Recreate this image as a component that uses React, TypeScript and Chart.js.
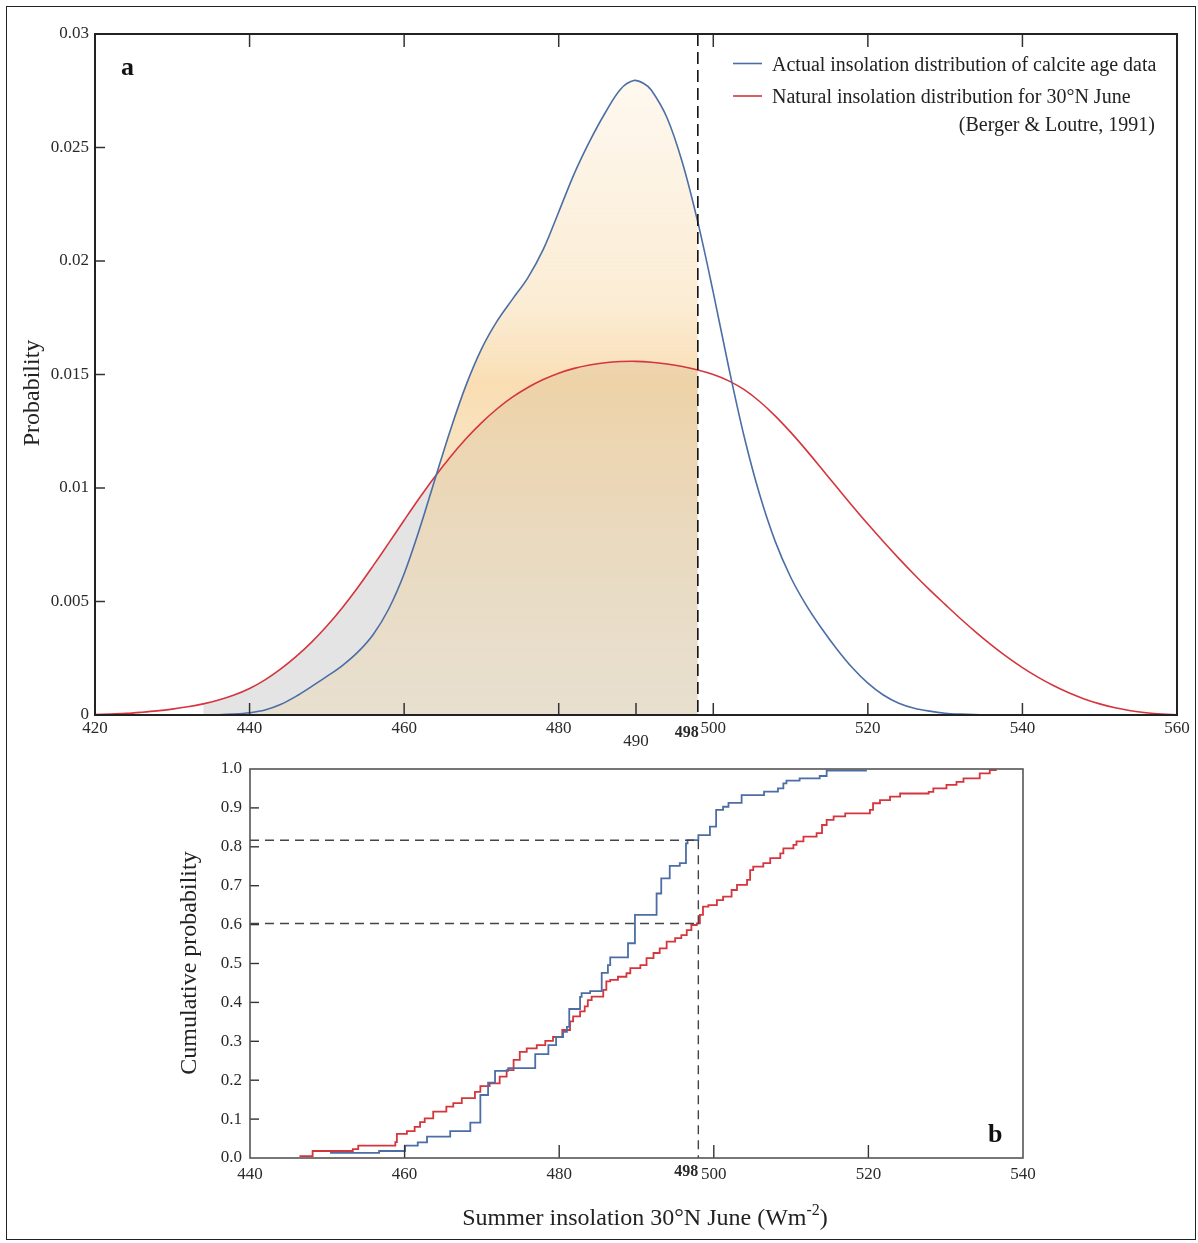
import React, { useEffect, useRef } from "react";
import { Chart, registerables } from "chart.js";

Chart.register(...registerables);

// ---------------- data ----------------
// Panel a: probability density of summer insolation (30°N June)
const actualDensityX = [434, 436, 438, 440, 442, 444, 446, 448, 450, 452, 454, 456, 458, 460, 462, 464, 466, 468, 470, 472, 474, 476, 478, 480, 482, 484, 486, 488, 489.7, 491, 492, 494, 496, 498, 500, 502, 504, 506, 508, 510, 512, 514, 516, 518, 520, 522, 524, 526, 528, 530, 532, 535.4];
const actualDensityY = [0, 0.00001, 0.00004, 0.0001, 0.00022, 0.00046, 0.00082, 0.00125, 0.0017, 0.00218, 0.00277, 0.00355, 0.00467, 0.00622, 0.0082, 0.0104, 0.01257, 0.01452, 0.01612, 0.01734, 0.01831, 0.01926, 0.02051, 0.02216, 0.02384, 0.02527, 0.02652, 0.02757, 0.02795, 0.02782, 0.02752, 0.02632, 0.02434, 0.02171, 0.01861, 0.01531, 0.01226, 0.00971, 0.00766, 0.00608, 0.00485, 0.00382, 0.0029, 0.00208, 0.0014, 0.00088, 0.00052, 0.0003, 0.00017, 0.00008, 0.00004, 0];

const naturalDensityX = [420, 422, 424, 426, 428, 430, 432, 434, 436, 438, 440, 442, 444, 446, 448, 450, 452, 454, 456, 458, 460, 462, 464, 466, 468, 470, 472, 474, 476, 478, 480, 482, 484, 486, 488, 490, 492, 494, 496, 498, 500, 502, 504, 506, 508, 510, 512, 514, 516, 518, 520, 522, 524, 526, 528, 530, 532, 534, 536, 538, 540, 542, 544, 546, 548, 550, 552, 554, 556, 558, 560];
const naturalDensityY = [0.00002, 0.00004, 0.00007, 0.00012, 0.00018, 0.00026, 0.00036, 0.00049, 0.00066, 0.00088, 0.00117, 0.00155, 0.00202, 0.00257, 0.0032, 0.00392, 0.00473, 0.00562, 0.00658, 0.00757, 0.00858, 0.00957, 0.01051, 0.01138, 0.01217, 0.01287, 0.01348, 0.014, 0.01443, 0.01478, 0.01506, 0.01527, 0.01542, 0.01552, 0.01557, 0.01558, 0.01554, 0.01546, 0.01535, 0.0152, 0.015, 0.01472, 0.01433, 0.01381, 0.01318, 0.01246, 0.01168, 0.01086, 0.01003, 0.00921, 0.00841, 0.00764, 0.0069, 0.00619, 0.00551, 0.00487, 0.00424, 0.00364, 0.00308, 0.00256, 0.00209, 0.00167, 0.0013, 0.00098, 0.00071, 0.00049, 0.00032, 0.00019, 0.0001, 0.00004, 0.00001];

// Panel b: cumulative probability (step functions)
const actualCdfX = [450.35, 456.7, 460.05, 461.7, 462.9, 465.9, 468.5, 469.8, 470.8, 471.7, 473.4, 476.9, 478.6, 479.6, 480.5, 481.0, 481.3, 482.7, 482.9, 484.0, 485.5, 486.3, 486.6, 488.9, 489.8, 492.6, 493.2, 494.3, 495.6, 496.4, 496.6, 498.0, 499.5, 500.3, 501.2, 501.9, 503.6, 506.5, 508.3, 509.0, 509.4, 511.1, 513.7, 514.6, 519.8];
const actualCdfY = [0.013, 0.018, 0.032, 0.04, 0.055, 0.069, 0.091, 0.162, 0.194, 0.224, 0.231, 0.267, 0.29, 0.311, 0.324, 0.337, 0.383, 0.414, 0.424, 0.429, 0.476, 0.496, 0.516, 0.552, 0.625, 0.68, 0.719, 0.751, 0.758, 0.809, 0.817, 0.83, 0.852, 0.895, 0.903, 0.913, 0.933, 0.942, 0.95, 0.963, 0.97, 0.976, 0.982, 0.996, 0.996];

const naturalCdfX = [446.4, 448.1, 453.3, 454.0, 458.8, 459.0, 460.3, 461.3, 462.0, 462.6, 463.7, 465.4, 466.3, 467.4, 469.1, 469.8, 471.0, 472.3, 473.2, 474.1, 474.9, 475.8, 477.1, 478.2, 479.2, 480.4, 481.4, 481.8, 482.7, 483.3, 483.7, 484.2, 485.7, 486.1, 486.6, 487.6, 488.7, 489.2, 490.5, 491.3, 492.2, 493.0, 493.9, 495.0, 495.8, 496.5, 497.1, 497.8, 498.2, 498.6, 499.3, 500.4, 501.2, 502.3, 503.0, 504.3, 504.7, 505.1, 506.4, 507.3, 508.6, 509.0, 510.3, 510.7, 511.6, 513.3, 514.0, 514.6, 515.5, 517.0, 520.2, 520.6, 521.5, 522.8, 524.1, 527.8, 528.4, 530.1, 531.4, 532.3, 534.4, 535.7, 536.6];
const naturalCdfY = [0.005, 0.018, 0.023, 0.032, 0.041, 0.062, 0.069, 0.08, 0.092, 0.102, 0.119, 0.132, 0.141, 0.154, 0.17, 0.185, 0.192, 0.209, 0.226, 0.252, 0.273, 0.282, 0.29, 0.301, 0.311, 0.329, 0.351, 0.364, 0.377, 0.39, 0.406, 0.415, 0.432, 0.454, 0.458, 0.466, 0.475, 0.488, 0.496, 0.514, 0.527, 0.539, 0.556, 0.565, 0.573, 0.586, 0.599, 0.603, 0.625, 0.646, 0.65, 0.663, 0.672, 0.689, 0.702, 0.715, 0.74, 0.749, 0.758, 0.771, 0.783, 0.796, 0.805, 0.814, 0.826, 0.835, 0.856, 0.869, 0.878, 0.886, 0.895, 0.912, 0.92, 0.929, 0.937, 0.941, 0.95, 0.959, 0.967, 0.976, 0.989, 0.997, 0.997];

const threshold = 498;
const thresholdActualCdf = 0.817;
const thresholdNaturalCdf = 0.603;

// ticks / labels
const xTicksTop = [420, 440, 460, 480, 500, 520, 540, 560];
const xInnerTicksTop = [440, 460, 480, 490, 500, 520, 540];
const xInnerTicksTopEdge = [440, 460, 480, 500, 520, 540];
const extraTickTop = 490;
const yTicksTop = [0, 0.005, 0.01, 0.015, 0.02, 0.025, 0.03];
const yTickLabelsTop = ["0", "0.005", "0.01", "0.015", "0.02", "0.025", "0.03"];
const xTicksBot = [440, 460, 480, 500, 520, 540];
const xInnerTicksBot = [460, 480, 500, 520];
const yTicksBot = [0, 0.1, 0.2, 0.3, 0.4, 0.5, 0.6, 0.7, 0.8, 0.9, 1.0];
const yTickLabelsBot = ["0.0", "0.1", "0.2", "0.3", "0.4", "0.5", "0.6", "0.7", "0.8", "0.9", "1.0"];

const legendActual = "Actual insolation distribution of calcite age data";
const legendNatural = "Natural insolation distribution for 30°N June";
const legendNaturalRef = "(Berger & Loutre, 1991)";

// ---------------- styles ----------------
const SERIF = '"Liberation Serif", "Times New Roman", Times, serif';
const BLUE = "#4b6ea6";
const RED = "#d5353c";
const TICK_COLOR = "#2a2a2a";
const TENSION = 0.35;

const W = 1198;
const TOP_H = 760;
const BOT_H = 483;

function line(ctx: CanvasRenderingContext2D, x1: number, y1: number, x2: number, y2: number) {
  ctx.beginPath();
  ctx.moveTo(x1, y1);
  ctx.lineTo(x2, y2);
  ctx.stroke();
}

function creamGradient(c: any) {
  const chart = c.chart;
  const { ctx, chartArea, scales } = chart;
  if (!chartArea) return "rgba(245,200,130,0.35)";
  const y0 = scales.y.getPixelForValue(0.028);
  const y1 = scales.y.getPixelForValue(0);
  const g = ctx.createLinearGradient(0, y0, 0, y1);
  g.addColorStop(0, "rgba(245,205,140,0.14)");
  g.addColorStop(0.36, "rgba(245,202,135,0.36)");
  g.addColorStop(0.48, "rgba(245,198,125,0.58)");
  g.addColorStop(0.62, "rgba(243,200,132,0.48)");
  g.addColorStop(0.82, "rgba(241,206,145,0.36)");
  g.addColorStop(1, "rgba(240,212,160,0.3)");
  return g;
}

function fixedAxes(xHeight: number, yWidth: number) {
  return {
    x: (s: any) => {
      s.height = xHeight;
      s.paddingLeft = 0;
      s.paddingRight = 0;
    },
    y: (s: any) => {
      s.width = yWidth;
      s.paddingTop = 0;
      s.paddingBottom = 0;
    },
  };
}

function topConfig(): any {
  const actual = actualDensityX.map((x, i) => ({ x, y: actualDensityY[i] }));
  const natural = naturalDensityX.map((x, i) => ({ x, y: naturalDensityY[i] }));
  const actualFill = actual.filter((p) => p.x <= threshold);
  const naturalFill = natural.filter((p) => p.x >= actualDensityX[0] && p.x <= threshold);
  const fa = fixedAxes(TOP_H - 715, 95);

  const decor = {
    id: "topDecor",
    afterDraw(chart: any) {
      const { ctx, chartArea: a, scales } = chart;
      const x = scales.x;
      const y = scales.y;
      ctx.save();
      // threshold dashed line
      ctx.strokeStyle = "#111";
      ctx.lineWidth = 1.6;
      ctx.setLineDash([12, 6]);
      const tx = x.getPixelForValue(threshold);
      line(ctx, tx, a.top, tx, a.bottom);
      ctx.setLineDash([]);
      // inner ticks
      ctx.strokeStyle = "#333";
      ctx.lineWidth = 1.5;
      xInnerTicksTop.forEach((v) => {
        const px = x.getPixelForValue(v);
        line(ctx, px, a.bottom, px, a.bottom - 12);
      });
      xInnerTicksTopEdge.forEach((v) => {
        const px = x.getPixelForValue(v);
        line(ctx, px, a.top, px, a.top + 13);
      });
      yTicksTop.slice(1, -1).forEach((v) => {
        const py = y.getPixelForValue(v);
        line(ctx, a.left, py, a.left + 10, py);
      });
      // frame
      ctx.strokeStyle = "#222";
      ctx.lineWidth = 2;
      ctx.strokeRect(a.left, a.top, a.right - a.left, a.bottom - a.top);
      // extra tick labels
      ctx.fillStyle = TICK_COLOR;
      ctx.textBaseline = "middle";
      ctx.textAlign = "center";
      ctx.font = `17px ${SERIF}`;
      ctx.fillText(String(extraTickTop), x.getPixelForValue(extraTickTop), a.bottom + 27);
      ctx.textAlign = "right";
      ctx.font = `bold 16px ${SERIF}`;
      ctx.fillText(String(threshold), tx + 1, a.bottom + 18);
      // panel letter
      ctx.fillStyle = "#111";
      ctx.textAlign = "left";
      ctx.textBaseline = "alphabetic";
      ctx.font = `bold 26px ${SERIF}`;
      ctx.fillText("a", 121, 75);
      // axis title
      ctx.save();
      ctx.translate(33, 393);
      ctx.rotate(-Math.PI / 2);
      ctx.textAlign = "center";
      ctx.textBaseline = "middle";
      ctx.font = `24px ${SERIF}`;
      ctx.fillStyle = "#222";
      ctx.fillText("Probability", 0, 0);
      ctx.restore();
      // legend
      ctx.lineWidth = 1.6;
      ctx.strokeStyle = BLUE;
      line(ctx, 733, 63.5, 762, 63.5);
      ctx.strokeStyle = RED;
      line(ctx, 733, 96, 762, 96);
      ctx.fillStyle = "#222";
      ctx.font = `20px ${SERIF}`;
      ctx.textAlign = "left";
      ctx.fillText(legendActual, 772, 71);
      ctx.fillText(legendNatural, 772, 103);
      ctx.textAlign = "right";
      ctx.fillText(legendNaturalRef, 1155, 131);
      ctx.restore();
    },
  };

  const common = { pointRadius: 0, tension: TENSION };

  return {
    type: "line",
    data: {
      datasets: [
        {
          ...common,
          label: "natural fill",
          data: naturalFill,
          fill: "origin",
          backgroundColor: "rgba(165,165,165,0.3)",
          borderWidth: 0,
          borderColor: "rgba(0,0,0,0)",
          order: 4,
        },
        {
          ...common,
          label: "actual fill",
          data: actualFill,
          fill: "origin",
          backgroundColor: creamGradient,
          borderWidth: 0,
          borderColor: "rgba(0,0,0,0)",
          order: 3,
        },
        {
          ...common,
          label: legendNatural,
          data: natural,
          fill: false,
          borderColor: RED,
          borderWidth: 1.6,
          order: 2,
        },
        {
          ...common,
          label: legendActual,
          data: actual,
          fill: false,
          borderColor: BLUE,
          borderWidth: 1.6,
          order: 1,
        },
      ],
    },
    options: {
      responsive: false,
      animation: false,
      devicePixelRatio: 1,
      events: [],
      layout: { padding: { left: 0, right: W - 1177, top: 34, bottom: 0 } },
      plugins: { legend: { display: false }, tooltip: { enabled: false } },
      scales: {
        x: {
          type: "linear",
          min: 420,
          max: 560,
          afterFit: fa.x,
          afterBuildTicks: (s: any) => {
            s.ticks = xTicksTop.map((v) => ({ value: v }));
          },
          grid: { display: false, drawTicks: false },
          border: { display: false },
          ticks: {
            padding: 3,
            autoSkip: false,
            maxRotation: 0,
            color: TICK_COLOR,
            font: { family: SERIF, size: 17 },
          },
        },
        y: {
          type: "linear",
          min: 0,
          max: 0.03,
          afterFit: fa.y,
          afterBuildTicks: (s: any) => {
            s.ticks = yTicksTop.map((v) => ({ value: v }));
          },
          grid: { display: false, drawTicks: false },
          border: { display: false },
          ticks: {
            padding: 6,
            autoSkip: false,
            color: TICK_COLOR,
            font: { family: SERIF, size: 17 },
            callback: (_v: any, i: number) => yTickLabelsTop[i],
          },
        },
      },
    },
    plugins: [decor],
  };
}

function botConfig(): any {
  const actual = actualCdfX.map((x, i) => ({ x, y: actualCdfY[i] }));
  const natural = naturalCdfX.map((x, i) => ({ x, y: naturalCdfY[i] }));
  const top = 769 - TOP_H;
  const bottom = 1158 - TOP_H;
  const fa = fixedAxes(BOT_H - bottom, 250);

  const decor = {
    id: "botDecor",
    afterDraw(chart: any) {
      const { ctx, chartArea: a, scales } = chart;
      const x = scales.x;
      const y = scales.y;
      ctx.save();
      // dashed guides
      ctx.strokeStyle = "#444";
      ctx.lineWidth = 1.4;
      ctx.setLineDash([9, 6]);
      const tx = x.getPixelForValue(threshold);
      const ya = y.getPixelForValue(thresholdActualCdf);
      const yn = y.getPixelForValue(thresholdNaturalCdf);
      line(ctx, a.left, ya, tx, ya);
      line(ctx, a.left, yn, tx, yn);
      line(ctx, tx, ya, tx, a.bottom);
      ctx.setLineDash([]);
      // inner ticks
      ctx.strokeStyle = "#333";
      ctx.lineWidth = 1.4;
      xInnerTicksBot.forEach((v) => {
        const px = x.getPixelForValue(v);
        line(ctx, px, a.bottom, px, a.bottom - 13);
      });
      yTicksBot.slice(1, -1).forEach((v) => {
        const py = y.getPixelForValue(v);
        line(ctx, a.left, py, a.left + 9, py);
      });
      // frame
      ctx.strokeStyle = "#555";
      ctx.lineWidth = 1.6;
      ctx.strokeRect(a.left, a.top, a.right - a.left, a.bottom - a.top);
      // 498 label
      ctx.fillStyle = TICK_COLOR;
      ctx.textBaseline = "middle";
      ctx.textAlign = "right";
      ctx.font = `bold 16px ${SERIF}`;
      ctx.fillText(String(threshold), tx, a.bottom + 14);
      // panel letter
      ctx.fillStyle = "#111";
      ctx.textAlign = "left";
      ctx.textBaseline = "alphabetic";
      ctx.font = `bold 26px ${SERIF}`;
      ctx.fillText("b", 988, 1142 - TOP_H);
      // y title
      ctx.save();
      ctx.translate(190, 963 - TOP_H);
      ctx.rotate(-Math.PI / 2);
      ctx.textAlign = "center";
      ctx.textBaseline = "middle";
      ctx.font = `24px ${SERIF}`;
      ctx.fillStyle = "#222";
      ctx.fillText("Cumulative probability", 0, 0);
      ctx.restore();
      // x title with superscript
      const p1 = "Summer insolation 30°N June (Wm";
      const sup = "-2";
      const p3 = ")";
      ctx.fillStyle = "#222";
      ctx.font = `24px ${SERIF}`;
      const w1 = ctx.measureText(p1).width;
      const w3 = ctx.measureText(p3).width;
      ctx.font = `16px ${SERIF}`;
      const ws = ctx.measureText(sup).width;
      const baseY = 1225 - TOP_H;
      let sx = 645 - (w1 + ws + w3) / 2;
      ctx.font = `24px ${SERIF}`;
      ctx.fillText(p1, sx, baseY);
      sx += w1;
      ctx.font = `16px ${SERIF}`;
      ctx.fillText(sup, sx, baseY - 10);
      sx += ws;
      ctx.font = `24px ${SERIF}`;
      ctx.fillText(p3, sx, baseY);
      ctx.restore();
    },
  };

  return {
    type: "line",
    data: {
      datasets: [
        {
          label: "natural cumulative",
          data: natural,
          stepped: "before",
          fill: false,
          borderColor: RED,
          borderWidth: 1.8,
          pointRadius: 0,
          order: 2,
        },
        {
          label: "actual cumulative",
          data: actual,
          stepped: "before",
          fill: false,
          borderColor: BLUE,
          borderWidth: 1.8,
          pointRadius: 0,
          order: 1,
        },
      ],
    },
    options: {
      responsive: false,
      animation: false,
      devicePixelRatio: 1,
      events: [],
      layout: { padding: { left: 0, right: W - 1023, top: top, bottom: 0 } },
      plugins: { legend: { display: false }, tooltip: { enabled: false } },
      scales: {
        x: {
          type: "linear",
          min: 440,
          max: 540,
          afterFit: fa.x,
          afterBuildTicks: (s: any) => {
            s.ticks = xTicksBot.map((v) => ({ value: v }));
          },
          grid: { display: false, drawTicks: false },
          border: { display: false },
          ticks: {
            padding: 6,
            autoSkip: false,
            maxRotation: 0,
            color: TICK_COLOR,
            font: { family: SERIF, size: 17 },
          },
        },
        y: {
          type: "linear",
          min: 0,
          max: 1,
          afterFit: fa.y,
          afterBuildTicks: (s: any) => {
            s.ticks = yTicksBot.map((v) => ({ value: v }));
          },
          grid: { display: false, drawTicks: false },
          border: { display: false },
          ticks: {
            padding: 8,
            autoSkip: false,
            color: TICK_COLOR,
            font: { family: SERIF, size: 17 },
            callback: (_v: any, i: number) => yTickLabelsBot[i],
          },
        },
      },
    },
    plugins: [decor],
  };
}

export default function App() {
  const topRef = useRef<HTMLCanvasElement>(null);
  const botRef = useRef<HTMLCanvasElement>(null);

  useEffect(() => {
    const c1 = new Chart(topRef.current as HTMLCanvasElement, topConfig());
    const c2 = new Chart(botRef.current as HTMLCanvasElement, botConfig());
    return () => {
      c1.destroy();
      c2.destroy();
    };
  }, []);

  return (
    <div
      style={{
        position: "absolute",
        left: 0,
        top: 0,
        width: W,
        height: TOP_H + BOT_H,
        background: "#fff",
        overflow: "hidden",
      }}
    >
      <canvas ref={topRef} width={W} height={TOP_H} style={{ position: "absolute", left: 0, top: 0 }} />
      <canvas ref={botRef} width={W} height={BOT_H} style={{ position: "absolute", left: 0, top: TOP_H }} />
      <div
        style={{
          position: "absolute",
          left: 6,
          top: 6,
          width: 1190,
          height: 1234,
          border: "1.5px solid #222",
          boxSizing: "border-box",
          pointerEvents: "none",
        }}
      />
    </div>
  );
}
